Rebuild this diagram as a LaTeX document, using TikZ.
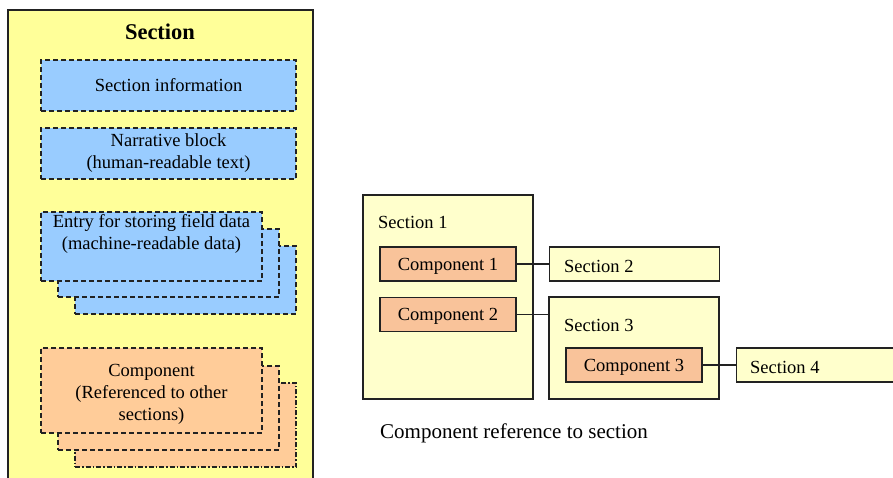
\documentclass[tikz,border=0pt]{standalone}
\usepackage{fontspec}
\setmainfont{Liberation Serif}
\definecolor{bigyellow}{HTML}{FFFF99}
\definecolor{paleyellow}{HTML}{FFFFCC}
\definecolor{lblue}{HTML}{99CCFF}
\definecolor{peach}{HTML}{FFCC99}
\definecolor{comporange}{HTML}{F9C39A}
\definecolor{edge}{HTML}{222222}
\begin{document}
\begin{tikzpicture}[x=1pt,y=-1pt,
  every node/.style={font=\fontsize{18.5}{22}\selectfont, text=black},
  dbox/.style={draw=edge, line width=1.2pt, dash pattern=on 5pt off 3pt, inner sep=0pt, align=center},
  bluebox/.style={dbox, fill=lblue},
  peachbox/.style={dbox, fill=peach},
  secbox/.style={draw=edge, line width=1.2pt, fill=paleyellow, inner sep=0pt},
  compbox/.style={draw=edge, line width=1.2pt, fill=comporange, inner sep=0pt, minimum width=136pt, minimum height=34pt, text depth=0pt},
  link/.style={draw=edge, line width=1.2pt}
]
\useasboundingbox (0,0) rectangle (893,478);
\fill[white] (0,0) rectangle (893,478);
% left panel
\node[draw=edge, line width=1.2pt, fill=bigyellow, minimum width=305pt, minimum height=480pt, inner sep=0pt] (sect) at (160.5,250) {};
\node[font=\fontsize{22.5}{26}\selectfont\bfseries] (title) at (160,32) {Section};
\node[bluebox, minimum width=255pt, minimum height=51pt] (info) at (168.5,85.5) {Section information};
\node[bluebox, minimum width=255pt, minimum height=51pt] (narr) at (168.5,153.5) {Narrative block\\(human-readable text)};
\node[bluebox, minimum width=221pt, minimum height=68pt] (e3) at (185.5,280) {};
\node[bluebox, minimum width=221pt, minimum height=68pt] (e2) at (168.5,263) {};
\node[bluebox, minimum width=221pt, minimum height=69pt] (e1) at (151.5,246.5) {};
\node[align=center] (etext) at (151.5,234) {Entry for storing field data\\(machine-readable data)};
\node[peachbox, dash pattern=on 5pt off 2pt on 1.5pt off 2pt, minimum width=221pt, minimum height=84pt] (k3) at (185.5,425) {};
\node[peachbox, minimum width=221pt, minimum height=84pt] (k2) at (168.5,408) {};
\node[peachbox, minimum width=221pt, minimum height=85pt] (k1) at (151.5,390.5) {};
\node[align=center] (ktext) at (151.5,394) {Component\\(Referenced to other\\sections)};
% right panel
\node[secbox, minimum width=170pt, minimum height=204pt] (s1) at (448,297) {};
\node[anchor=west, inner sep=0pt] (s1t) at (378,222) {Section 1};
\node[compbox] (c1) at (448,264) {Component 1};
\node[compbox] (c2) at (448,314.5) {Component 2};
\node[secbox, minimum width=170pt, minimum height=34pt, anchor=west] (s2) at (549,264) {};
\node[anchor=west, inner sep=0pt] (s2t) at (564,266) {Section 2};
\node[secbox, minimum width=170pt, minimum height=102pt] (s3) at (634,348) {};
\node[anchor=west, inner sep=0pt] (s3t) at (564,325) {Section 3};
\node[compbox] (c3) at (634,365) {Component 3};
\node[secbox, minimum width=180pt, minimum height=34pt, anchor=west] (s4) at (736,365) {};
\node[anchor=west, inner sep=0pt] (s4t) at (750,367) {Section 4};
\draw[link] (c1.east) -- (s2.west);
\draw[link] (c2.east) -- (c2.east -| s3.west);
\draw[link] (c3.east) -- (s4.west);
\node[anchor=west, inner sep=0pt, font=\fontsize{21}{25}\selectfont] (cap) at (380,433) {Component reference to section};
\end{tikzpicture}
\end{document}
